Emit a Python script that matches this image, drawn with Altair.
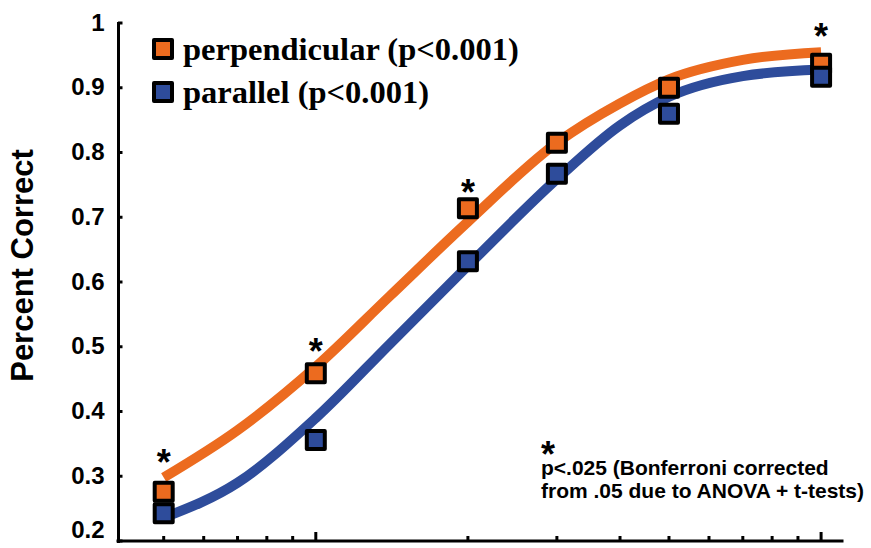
import altair as alt
import pandas as pd

# Stimulus levels (log-spaced) and mean proportion correct per condition
levels = [5, 10, 20, 30, 50, 100]
perp_pts = [0.276, 0.459, 0.714, 0.815, 0.900, 0.937]
para_pts = [0.243, 0.356, 0.632, 0.767, 0.860, 0.917]

# Fitted psychometric curves, sampled along the x range
fit_x = [5, 7, 10, 14, 20, 30, 40, 50, 70, 100]
perp_fit = [0.298, 0.371, 0.469, 0.578, 0.693, 0.815, 0.876, 0.913, 0.943, 0.955]
para_fit = [0.236, 0.290, 0.390, 0.504, 0.625, 0.759, 0.842, 0.886, 0.918, 0.928]

# Levels where the two conditions differ significantly
sig_levels = [5, 10, 20, 100]

series_names = ["perpendicular (p<0.001)", "parallel (p<0.001)"]
series_colors = ["#EC6B1F", "#2E4C9B"]

y_ticks = [0.2, 0.3, 0.4, 0.5, 0.6, 0.7, 0.8, 0.9, 1.0]
x_minor_ticks = [5, 6, 7, 8, 9, 20, 30, 40, 50, 60, 70, 80, 90]
x_major_ticks = [10, 100]

footnote_lines = ["p<.025 (Bonferroni corrected", "from .05 due to ANOVA + t-tests)"]

W, H = 724, 518

pts = pd.DataFrame({
    "level": levels * 2,
    "pc": perp_pts + para_pts,
    "series": [series_names[0]] * len(levels) + [series_names[1]] * len(levels),
})
fits = pd.DataFrame({
    "level": fit_x * 2,
    "pc": perp_fit + para_fit,
    "series": [series_names[0]] * len(fit_x) + [series_names[1]] * len(fit_x),
})
perp_fit_at = dict(zip(fit_x, perp_fit))
perp_pt_at = dict(zip(levels, perp_pts))
sig = pd.DataFrame({
    "level": sig_levels,
    "pc": [max(perp_fit_at[v], perp_pt_at[v]) for v in sig_levels],
})
legend_df = pd.DataFrame({"series": series_names})
one_row = pd.DataFrame({"k": [0]})

x_scale = alt.Scale(type="log", domain=[4.06, 110], nice=False)
y_scale = alt.Scale(domain=[0.2, 1.0], nice=False, zero=False)
color_scale = alt.Scale(domain=series_names, range=series_colors)
legend_rows = alt.Scale(type="point", domain=series_names, range=[26, 69], padding=0)

y_axis = alt.Axis(
    orient="left", values=y_ticks, grid=False, ticks=False,
    domainColor="black", domainWidth=3, domainCap="square",
    labelExpr="datum.value == 1 ? '1' : format(datum.value, '.1f')",
    labelFont="Liberation Sans", labelFontWeight="bold", labelFontSize=24,
    labelColor="black", labelPadding=14,
    labelOffset={"condition": {"test": "datum.value < 0.25", "value": -11}, "value": 0},
    title="Percent Correct", titleFont="Liberation Sans", titleFontWeight="bold",
    titleFontSize=31, titleColor="black", titleX=-95, titleY=242,
    titleAngle=270, titleBaseline="middle", titleAlign="center",
)

curves = alt.Chart(fits).mark_line(strokeWidth=10, strokeCap="butt", interpolate="monotone").encode(
    x=alt.X("level:Q", scale=x_scale, axis=None),
    y=alt.Y("pc:Q", scale=y_scale, axis=y_axis),
    color=alt.Color("series:N", scale=color_scale, legend=None),
    detail="series:N",
)

# Horizontal baseline along the bottom of the plot
x_baseline = alt.Chart(one_row).mark_rule(color="black", strokeWidth=3, strokeCap="square").encode(
    x=alt.value(0), x2=alt.value(W), y=alt.value(H),
)

# Inward-pointing tick marks: short horizontal strokes drawn as point glyphs
y_tick_marks = alt.Chart(pd.DataFrame({"tv": y_ticks})).mark_point(
    shape="M0,0H1", size=81, filled=False, stroke="black", strokeWidth=3,
    opacity=1, strokeCap="butt",
).encode(
    x=alt.value(0),
    y=alt.Y("tv:Q", scale=y_scale, axis=None),
)
tick_style = dict(color="black", strokeWidth=3)
x_minor_marks = alt.Chart(pd.DataFrame({"v": x_minor_ticks})).mark_rule(**tick_style).encode(
    x=alt.X("v:Q", scale=x_scale, axis=None),
    y=alt.value(H), y2=alt.value(H - 5),
)
x_major_marks = alt.Chart(pd.DataFrame({"v": x_major_ticks})).mark_rule(**tick_style).encode(
    x=alt.X("v:Q", scale=x_scale, axis=None),
    y=alt.value(H), y2=alt.value(H - 9),
)

square_style = dict(shape="square", filled=True, size=324, stroke="black",
                    strokeWidth=4, opacity=1, strokeJoin="round")

markers = alt.Chart(pts).mark_point(**square_style).encode(
    x=alt.X("level:Q", scale=x_scale, axis=None),
    y=alt.Y("pc:Q", scale=y_scale, axis=None),
    color=alt.Color("series:N", scale=color_scale, legend=None),
)

stars = alt.Chart(sig).mark_text(
    text="*", font="Liberation Sans", fontWeight="bold", fontSize=36,
    baseline="alphabetic", align="center", dy=-3, color="black",
).encode(
    x=alt.X("level:Q", scale=x_scale, axis=None),
    y=alt.Y("pc:Q", scale=y_scale, axis=None),
)

# Legend: swatches and labels stacked in the upper-left corner
legend_marks = alt.Chart(legend_df).mark_point(**square_style).encode(
    x=alt.value(45),
    y=alt.Y("series:N", scale=legend_rows, axis=None),
    color=alt.Color("series:N", scale=color_scale, legend=None),
)
legend_text = alt.Chart(legend_df).mark_text(
    font="Liberation Serif", fontWeight="bold", fontSize=32.5, align="left",
    baseline="middle", color="black", dy=1,
).encode(
    x=alt.value(65),
    y=alt.Y("series:N", scale=legend_rows, axis=None),
    text="series:N",
)

note = alt.Chart(one_row).mark_text(
    text=footnote_lines, font="Liberation Sans", fontWeight="bold", fontSize=21,
    baseline="alphabetic", align="left", lineHeight=23, color="black",
).encode(x=alt.value(423), y=alt.value(452))

note_star = alt.Chart(one_row).mark_text(
    text="*", font="Liberation Sans", fontWeight="bold", fontSize=36,
    baseline="alphabetic", align="center", color="black",
).encode(x=alt.value(430), y=alt.value(444))

chart = alt.layer(
    curves, x_baseline, y_tick_marks, x_minor_marks, x_major_marks, markers,
    stars, legend_marks, legend_text, note, note_star
).resolve_scale(
    y="independent"
).properties(
    width=W, height=H,
    autosize=alt.AutoSizeParams(type="none"),
    padding={"left": 118, "top": 23, "right": 29, "bottom": 7},
    background="white",
).configure_view(stroke=None)

chart.save("out.html", embed_options={"renderer": "svg", "actions": False})
